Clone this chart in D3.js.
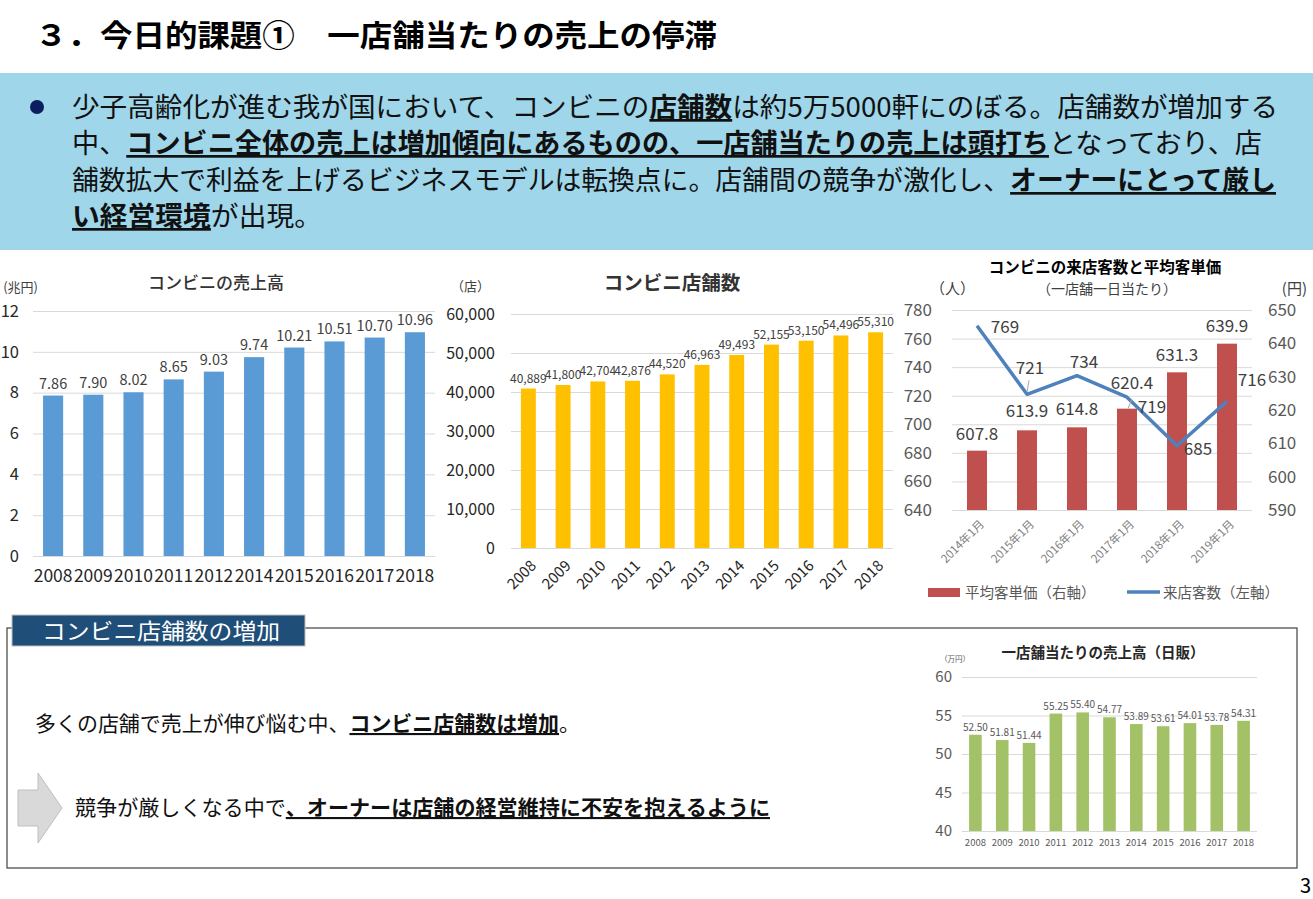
<!DOCTYPE html>
<html>
<head>
<meta charset="utf-8">
<script src="https://cdn.jsdelivr.net/npm/d3@7"></script>
<style>
body { margin: 0; background: #fff; }
svg { display: block; }
</style>
</head>
<body>
<script>
var FONT = "'Noto Sans CJK JP','Noto Sans',sans-serif";

// コンビニの売上高 (兆円)
var salesYears = ["2008", "2009", "2010", "2011", "2012", "2014", "2015", "2016", "2017", "2018"];
var salesValues = [7.86, 7.90, 8.02, 8.65, 9.03, 9.74, 10.21, 10.51, 10.70, 10.96];
var salesTicks = [0, 2, 4, 6, 8, 10, 12];

// コンビニ店舗数 (店)
var storeYears = ["2008", "2009", "2010", "2011", "2012", "2013", "2014", "2015", "2016", "2017", "2018"];
var storeCounts = [40889, 41800, 42704, 42876, 44520, 46963, 49493, 52155, 53150, 54496, 55310];
var storeTicks = [0, 10000, 20000, 30000, 40000, 50000, 60000];

// 来店客数と平均客単価
var visitMonths = ["2014年1月", "2015年1月", "2016年1月", "2017年1月", "2018年1月", "2019年1月"];
var avgSpend = [607.8, 613.9, 614.8, 620.4, 631.3, 639.9];
var visitors = [769, 721, 734, 719, 685, 716];
var visitorTicks = [640, 660, 680, 700, 720, 740, 760, 780];
var spendTicks = [590, 600, 610, 620, 630, 640, 650];

// 一店舗当たりの売上高（日販）(万円)
var dailyYears = ["2008", "2009", "2010", "2011", "2012", "2013", "2014", "2015", "2016", "2017", "2018"];
var dailySales = [52.50, 51.81, 51.44, 55.25, 55.40, 54.77, 53.89, 53.61, 54.01, 53.78, 54.31];
var dailyTicks = [40, 45, 50, 55, 60];

var svg = d3.select("body").append("svg")
    .attr("width", 1313)
    .attr("height", 899)
    .style("font-family", FONT);

function label(x, y, txt, size, opts) {
    opts = opts || {};
    var t = svg.append("text")
        .attr("x", x).attr("y", y)
        .attr("font-size", size)
        .attr("fill", opts.fill || "#333")
        .attr("text-anchor", opts.anchor || "start")
        .attr("font-weight", opts.weight || "normal")
        .text(txt);
    if (opts.len) t.attr("textLength", opts.len).attr("lengthAdjust", "spacingAndGlyphs");
    return t;
}

// one line of mixed text, bold parts underlined
function richLine(x, y, len, size, parts) {
    var t = svg.append("text")
        .attr("x", x).attr("y", y)
        .attr("font-size", size)
        .attr("fill", "#111")
        .attr("textLength", len)
        .attr("lengthAdjust", "spacingAndGlyphs");
    parts.forEach(function (p) {
        var s = t.append("tspan").text(p[0]);
        if (p[1]) s.attr("font-weight", "bold").style("text-decoration", "underline");
    });
}

// ---------- header ----------
label(35, 46, "３．今日的課題①　一店舗当たりの売上の停滞", 30, {weight: "bold", fill: "#000", len: 682});

svg.append("rect").attr("x", 0).attr("y", 73).attr("width", 1313).attr("height", 177).attr("fill", "#9fd6ea");
svg.append("circle").attr("cx", 37).attr("cy", 107).attr("r", 7).attr("fill", "#0b1f5e");

richLine(72, 117, 1206, 27, [["少子高齢化が進む我が国において、コンビニの", 0], ["店舗数", 1], ["は約5万5000軒にのぼる。店舗数が増加する", 0]]);
richLine(72, 153, 1190, 27, [["中、", 0], ["コンビニ全体の売上は増加傾向にあるものの、一店舗当たりの売上は頭打ち", 1], ["となっており、店", 0]]);
richLine(72, 190, 1204, 27, [["舗数拡大で利益を上げるビジネスモデルは転換点に。店舗間の競争が激化し、", 0], ["オーナーにとって厳し", 1]]);
richLine(72, 226, 250, 27, [["い経営環境", 1], ["が出現。", 0]]);

// ---------- generic bar chart ----------
function drawBars(cfg) {
    var x = d3.scaleBand().domain(cfg.cats).range(cfg.xr)
        .paddingInner(cfg.pi).paddingOuter(cfg.po);
    var y = d3.scaleLinear().domain(cfg.dom).range(cfg.yr);
    var g = svg.append("g");

    g.append("g")
        .attr("transform", "translate(" + cfg.xr[0] + ",0)")
        .call(d3.axisLeft(y).tickValues(cfg.ticks).tickSize(-(cfg.xr[1] - cfg.xr[0]))
            .tickPadding(cfg.pad).tickFormat(cfg.tickFmt))
        .call(function (a) {
            a.select(".domain").remove();
            a.selectAll("line").attr("stroke", "#d9d9d9");
            a.selectAll("text").attr("font-size", cfg.ySize).attr("fill", cfg.yColor).attr("font-family", FONT);
        });

    g.selectAll("rect.bar")
        .data(cfg.values)
        .join("rect")
        .attr("class", "bar")
        .attr("x", function (d, i) { return x(cfg.cats[i]); })
        .attr("y", function (d) { return y(d); })
        .attr("width", x.bandwidth())
        .attr("height", function (d) { return y(cfg.dom[0]) - y(d); })
        .attr("fill", cfg.color);

    g.selectAll("text.val")
        .data(cfg.values)
        .join("text")
        .attr("class", "val")
        .attr("x", function (d, i) { return x(cfg.cats[i]) + x.bandwidth() / 2; })
        .attr("y", function (d) { return y(d) - cfg.valGap; })
        .attr("text-anchor", "middle")
        .attr("font-size", cfg.valSize)
        .attr("fill", cfg.valColor)
        .text(cfg.valFmt);

    var xa = g.append("g")
        .attr("transform", "translate(0," + cfg.yr[0] + ")")
        .call(d3.axisBottom(x).tickSize(0).tickPadding(cfg.xPad))
        .call(function (a) {
            a.select(".domain").remove();
            a.selectAll("text").attr("font-size", cfg.xSize).attr("fill", cfg.xColor).attr("font-family", FONT);
        });
    if (cfg.rotate) {
        xa.selectAll("text")
            .attr("x", 0).attr("y", 0).attr("dy", "0.35em")
            .attr("transform", "translate(" + cfg.rotate[0] + "," + cfg.rotate[1] + ") rotate(-45)")
            .style("text-anchor", "end");
    }
}

// ---------- chart 1 : コンビニの売上高 ----------
label(216, 289, "コンビニの売上高", 17, {anchor: "middle", weight: 500});
label(38, 292, "(兆円)", 13, {anchor: "end", fill: "#404040"});
drawBars({
    cats: salesYears, values: salesValues, ticks: salesTicks,
    xr: [33, 435], pi: 0.5, po: 0.25, dom: [0, 12], yr: [556, 311],
    pad: 14, tickFmt: d3.format("d"), ySize: 16.5, yColor: "#262626",
    color: "#5b9bd5", valGap: 7, valSize: 14.5, valColor: "#404040", valFmt: d3.format(".2f"),
    xPad: 14, xSize: 17.5, xColor: "#262626"
});

// ---------- chart 2 : コンビニ店舗数 ----------
label(672, 290, "コンビニ店舗数", 19.5, {anchor: "middle", weight: 600});
label(451, 291, "（店）", 13, {fill: "#404040"});
drawBars({
    cats: storeYears, values: storeCounts, ticks: storeTicks,
    xr: [511, 893], pi: 0.57, po: 0.285, dom: [0, 60000], yr: [548, 314],
    pad: 16, tickFmt: d3.format(","), ySize: 16, yColor: "#262626",
    color: "#ffc000", valGap: 6, valSize: 12, valColor: "#404040", valFmt: d3.format(","),
    xPad: 0, xSize: 15, xColor: "#262626", rotate: [5, 15]
});

// ---------- chart 3 : 来店客数と平均客単価 ----------
label(1105, 273, "コンビニの来店客数と平均客単価", 15.5, {anchor: "middle", weight: "bold", fill: "#000"});
label(1107, 294, "（一店舗一日当たり）", 14, {anchor: "middle", fill: "#404040"});
label(930, 294, "（人）", 15, {fill: "#404040"});
label(1307, 294, "(円)", 15, {anchor: "end", fill: "#404040"});

var x3 = d3.scaleBand().domain(visitMonths).range([952, 1252]).paddingInner(0.6).paddingOuter(0.3);
var yL = d3.scaleLinear().domain([640, 780]).range([510, 310]);
var yR = d3.scaleLinear().domain([590, 650]).range([510, 310]);
var g3 = svg.append("g");

g3.append("g")
    .attr("transform", "translate(952,0)")
    .call(d3.axisLeft(yL).tickValues(visitorTicks).tickSize(-300).tickPadding(20))
    .call(function (a) {
        a.select(".domain").remove();
        a.selectAll("line").attr("stroke", "#d9d9d9");
        a.selectAll("text").attr("font-size", 17).attr("fill", "#595959").attr("font-family", FONT);
    });
g3.append("g")
    .attr("transform", "translate(1252,0)")
    .call(d3.axisRight(yR).tickValues(spendTicks).tickSize(0).tickPadding(16))
    .call(function (a) {
        a.select(".domain").remove();
        a.selectAll("text").attr("font-size", 17).attr("fill", "#595959").attr("font-family", FONT);
    });

function cx3(i) { return x3(visitMonths[i]) + x3.bandwidth() / 2; }

g3.selectAll("rect.bar")
    .data(avgSpend)
    .join("rect")
    .attr("class", "bar")
    .attr("x", function (d, i) { return x3(visitMonths[i]); })
    .attr("y", function (d) { return yR(d); })
    .attr("width", x3.bandwidth())
    .attr("height", function (d) { return yR(590) - yR(d); })
    .attr("fill", "#c0504d");

g3.append("path")
    .datum(visitors)
    .attr("fill", "none")
    .attr("stroke", "#4f81bd")
    .attr("stroke-width", 3.5)
    .attr("stroke-linejoin", "round")
    .attr("d", d3.line().x(function (d, i) { return cx3(i); }).y(function (d) { return yL(d); }));

// label offsets (layout only)
var barLabelShift = [[0, -11], [0, -13], [0, -12], [5, -20], [0, -11], [0, -12]];
var lineLabelShift = [[28, 7], [3, -20], [7, -8], [25, 16], [21, 9], [25, -15]];

g3.append("line")
    .attr("x1", cx3(1)).attr("y1", yL(visitors[1]) - 2)
    .attr("x2", cx3(1) + 2).attr("y2", yL(visitors[1]) - 14)
    .attr("stroke", "#a6a6a6");
g3.append("line")
    .attr("x1", cx3(3) + 1).attr("y1", yR(avgSpend[3]))
    .attr("x2", cx3(3) + 5).attr("y2", yR(avgSpend[3]) - 10)
    .attr("stroke", "#a6a6a6");

g3.selectAll("text.bval")
    .data(avgSpend)
    .join("text")
    .attr("class", "bval")
    .attr("x", function (d, i) { return cx3(i) + barLabelShift[i][0]; })
    .attr("y", function (d, i) { return yR(d) + barLabelShift[i][1]; })
    .attr("text-anchor", "middle")
    .attr("font-size", 17)
    .attr("fill", "#404040")
    .text(d3.format(".1f"));

g3.selectAll("text.lval")
    .data(visitors)
    .join("text")
    .attr("class", "lval")
    .attr("x", function (d, i) { return cx3(i) + lineLabelShift[i][0]; })
    .attr("y", function (d, i) { return yL(d) + lineLabelShift[i][1]; })
    .attr("text-anchor", "middle")
    .attr("font-size", 17)
    .attr("fill", "#404040")
    .text(function (d) { return d; });

g3.append("g")
    .attr("transform", "translate(0,510)")
    .call(d3.axisBottom(x3).tickSize(0))
    .call(function (a) {
        a.select(".domain").remove();
        a.selectAll("text")
            .attr("font-size", 11.5).attr("fill", "#7f7f7f").attr("font-family", FONT)
            .attr("x", 0).attr("y", 0).attr("dy", "0.35em")
            .attr("transform", "translate(5,12) rotate(-45)")
            .style("text-anchor", "end");
    });

// legend
svg.append("rect").attr("x", 928).attr("y", 588).attr("width", 32).attr("height", 9).attr("fill", "#c0504d");
label(965, 598, "平均客単価（右軸）", 14.5, {fill: "#595959"});
svg.append("line").attr("x1", 1127).attr("x2", 1160).attr("y1", 592).attr("y2", 592)
    .attr("stroke", "#4f81bd").attr("stroke-width", 3.5);
label(1163, 598, "来店客数（左軸）", 14.5, {fill: "#595959"});

// ---------- lower box ----------
svg.append("rect").attr("x", 7).attr("y", 628).attr("width", 1290).attr("height", 240)
    .attr("fill", "none").attr("stroke", "#404040").attr("stroke-width", 1.2);
svg.append("rect").attr("x", 12).attr("y", 615).attr("width", 293).attr("height", 31)
    .attr("fill", "#1f4e79").attr("stroke", "#bfbfbf");
label(42, 639, "コンビニ店舗数の増加", 22, {fill: "#fff", len: 238});

richLine(35, 731, 545, 21, [["多くの店舗で売上が伸び悩む中、", 0], ["コンビニ店舗数は増加", 1], ["。", 0]]);

svg.append("polygon")
    .attr("points", "18,790 38,790 38,773 62,808 38,843 38,826 18,826")
    .attr("fill", "#d9d9d9").attr("stroke", "#bfbfbf");

richLine(75, 815, 695, 21, [["競争が厳しくなる中で", 0], ["、オーナーは店舗の経営維持に不安を抱えるように", 1]]);

// ---------- chart 4 : 一店舗当たりの売上高（日販） ----------
label(1103, 658, "一店舗当たりの売上高（日販）", 14.5, {anchor: "middle", weight: "bold", fill: "#262626"});
label(940, 662, "（万円）", 7.5, {fill: "#595959"});
drawBars({
    cats: dailyYears, values: dailySales, ticks: dailyTicks,
    xr: [962, 1257], pi: 0.53, po: 0.265, dom: [40, 60], yr: [831, 677],
    pad: 10, tickFmt: d3.format("d"), ySize: 15, yColor: "#595959",
    color: "#a3c267", valGap: 4, valSize: 10, valColor: "#595959", valFmt: d3.format(".2f"),
    xPad: 8, xSize: 9.5, xColor: "#595959"
});

// page number
label(1300, 893, "3", 20, {fill: "#000"});
</script>
</body>
</html>
